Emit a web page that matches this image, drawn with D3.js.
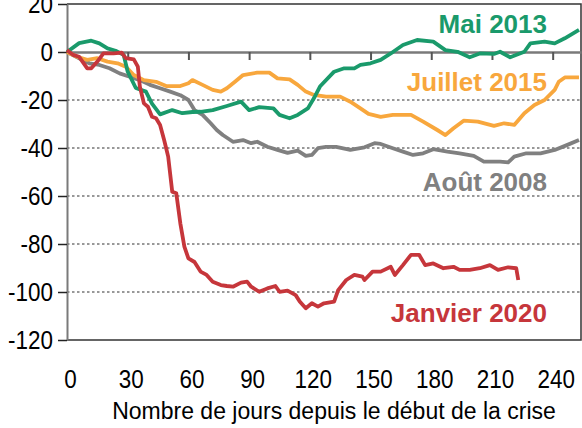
<!DOCTYPE html>
<html>
<head>
<meta charset="utf-8">
<script src="https://cdn.jsdelivr.net/npm/d3@7"></script>
<style>
  body { margin: 0; background: #fff; }
  svg { display: block; }
  .tick text { font-family: "Liberation Sans", Arial, sans-serif; font-size: 25.5px; fill: #000; }
</style>
</head>
<body>
<svg id="chart" width="582" height="428"></svg>
<script>
// days since start of crisis, change
const aout2008Days = [0, 6, 11, 16, 21, 26, 31, 36, 41, 46, 51, 56, 60, 63, 67, 71, 74, 77, 82, 87, 91, 94, 99, 104, 109, 114, 118, 121, 124, 128, 133, 140, 147, 152, 155, 161, 166, 171, 176, 181, 188, 194, 201, 206, 214, 218, 221, 227, 234, 241, 247, 253];
const aout2008Values = [0, -2.6, -4.7, -5.4, -6.8, -8.9, -10.3, -11.7, -13.7, -15.1, -16.5, -18, -20, -24.2, -26.2, -29.7, -32.5, -34.6, -37.4, -36.7, -38, -37.4, -39.5, -40.8, -42, -41.1, -43.3, -42.9, -40.1, -39.5, -39.5, -40.8, -39.7, -38, -38.3, -40.1, -41.5, -42.9, -42.2, -40.5, -41.5, -42.2, -43.3, -45.7, -45.7, -46, -43.6, -42.2, -42.2, -40.8, -38.8, -36.7];

const juillet2015Days = [0, 5, 10, 15, 20, 25, 29, 33, 38, 44, 49, 56, 60, 62, 67, 72, 76, 79, 83, 87, 94, 100, 104, 110, 114, 118, 122, 128, 135, 140, 145, 149, 155, 161, 170, 176, 183, 187, 191, 196, 203, 211, 216, 221, 226, 231, 236, 241, 243, 246, 253];
const juillet2015Values = [0, -2, -3.3, -2.6, -4, -4.7, -6.1, -9.6, -11.7, -12.4, -14.2, -14.2, -13, -11.7, -13.7, -15.8, -16.5, -15.1, -12.4, -9.6, -8.6, -8.6, -11, -11.4, -13.7, -16.5, -17.9, -18.6, -18.6, -20.7, -23.5, -25.8, -27, -26.2, -26.2, -29, -32.5, -34.6, -31.8, -28.6, -29, -30.8, -29.7, -30.4, -25.5, -22.1, -20, -15.8, -12.4, -10.6, -10.6];

const mai2013Days = [0, 6, 12, 16, 20, 24, 28, 30, 34, 39, 42, 46, 52, 57, 62, 66, 72, 79, 86, 90, 95, 102, 105, 110, 114, 119, 122, 125, 132, 137, 142, 145, 150, 155, 160, 166, 173, 181, 187, 193, 199, 204, 211, 214, 219, 226, 229, 236, 241, 246, 253];
const mai2013Values = [0, 3.7, 4.7, 3.6, 1.5, 0.5, -1.2, -8.2, -15, -16.5, -21.5, -26, -24.2, -25.5, -25, -24.9, -24.2, -22.5, -20.7, -24.2, -23, -23.5, -26.2, -27.6, -26.2, -23.5, -19.3, -14.4, -8.2, -6.8, -6.8, -5.4, -4.7, -3.3, -0.6, 2.9, 5, 4.3, 0.8, 0.1, -2.2, -0.6, -0.8, 0.1, -2.2, 0.1, 3.6, 4.3, 3.6, 5.7, 9.2];

const janvier2020Days = [0, 3, 6, 10, 12, 15, 18, 23, 27, 29, 33, 35, 36, 38, 40, 42, 44, 46, 48, 49, 50, 52, 54, 56, 58, 60, 63, 66, 69, 72, 76, 79, 82, 86, 89, 91, 95, 99, 103, 105, 109, 113, 115, 118, 121, 124, 127, 132, 134, 138, 142, 146, 147, 151, 155, 160, 162, 166, 170, 174, 177, 181, 186, 191, 194, 199, 204, 209, 213, 218, 222, 223];
const janvier2020Values = [0.8, -1.2, -2, -6.8, -6.8, -4, -0.6, -0.6, -0.3, -2.6, -3.1, -6.1, -14.4, -21.4, -22.8, -27, -27.6, -30.4, -36.7, -40.1, -43.6, -58.2, -58.9, -71.4, -81.1, -86, -87.5, -91.5, -92.9, -95.7, -97.1, -97.5, -97.8, -96.1, -95.7, -97.8, -99.9, -98.5, -97.5, -99.9, -99.4, -101.3, -104, -106.8, -104.7, -106.1, -104.7, -104, -99.2, -95, -92.9, -93.6, -95, -91.5, -91.5, -89.5, -92.9, -88.8, -84.5, -84.5, -88.8, -88.1, -90.1, -89.5, -90.8, -90.8, -90.1, -88.8, -90.8, -89.7, -90.1, -95];

const seriesNames = ["Août 2008", "Juillet 2015", "Mai 2013", "Janvier 2020"];
const seriesColors = ["#808080", "#f8a73d", "#1a9a6b", "#c6363b"];
const yTicks = [-120, -100, -80, -60, -40, -20, 0, 20];
const xTicks = [0, 30, 60, 90, 120, 150, 180, 210, 240];
const xTitle = "Nombre de jours depuis le début de la crise";

const series = [
  {name: seriesNames[0], color: seriesColors[0], days: aout2008Days, values: aout2008Values, labelY: 191},
  {name: seriesNames[1], color: seriesColors[1], days: juillet2015Days, values: juillet2015Values, labelY: 91},
  {name: seriesNames[2], color: seriesColors[2], days: mai2013Days, values: mai2013Values, labelY: 33},
  {name: seriesNames[3], color: seriesColors[3], days: janvier2020Days, values: janvier2020Values, labelY: 322}
];

const svg = d3.select("#chart");
const plotLeft = 67, plotRight = 581, plotTop = 4, plotBottom = 340;

const x = d3.scaleLinear().domain([0, 254]).range([plotLeft, plotRight]);
const y = d3.scaleLinear().domain([-120, 20]).range([plotBottom, plotTop]);

// squeeze tick labels a bit, the original uses a narrow face
function narrow(sel, k) {
  sel.each(function() {
    const w = this.getComputedTextLength();
    d3.select(this).attr("textLength", w * k).attr("lengthAdjust", "spacingAndGlyphs");
  });
}

// dotted grid
svg.append("g")
  .selectAll("line")
  .data(yTicks.filter(d => d < 0 && d > -120))
  .join("line")
  .attr("x1", plotLeft).attr("x2", plotRight)
  .attr("y1", d => y(d)).attr("y2", d => y(d))
  .attr("stroke", "#333")
  .attr("stroke-width", 1.2)
  .attr("stroke-dasharray", "2.5,2.5");

// frame top / right / bottom
svg.append("path")
  .attr("d", `M${plotLeft},${plotTop}H${plotRight}V${plotBottom}H${plotLeft}`)
  .attr("fill", "none")
  .attr("stroke", "#333")
  .attr("stroke-width", 1.5);

// zero line with ticks pointing down
const zeroAxis = svg.append("g")
  .attr("transform", `translate(0,${y(0)})`)
  .call(d3.axisBottom(x).tickValues(xTicks.slice(1)).tickSize(8).tickSizeOuter(0).tickFormat(""));
zeroAxis.select(".domain").attr("stroke", "#7a7a7a").attr("stroke-width", 2.5);
zeroAxis.selectAll(".tick line").attr("stroke", "#555").attr("stroke-width", 2);

// x labels under the plot
const xAxis = svg.append("g")
  .attr("transform", `translate(0,${plotBottom})`)
  .call(d3.axisBottom(x).tickValues(xTicks).tickSize(0).tickPadding(30));
xAxis.select(".domain").remove();
xAxis.selectAll(".tick text").attr("dx", 3).call(narrow, 0.88);

// y axis
const yAxis = svg.append("g")
  .attr("transform", `translate(${plotLeft},0)`)
  .call(d3.axisLeft(y).tickValues(yTicks).tickSize(9).tickPadding(5).tickSizeOuter(0).tickFormat(d => String(d)));
yAxis.select(".domain").attr("stroke", "#7a7a7a").attr("stroke-width", 2);
yAxis.selectAll(".tick line").attr("stroke", "#222").attr("stroke-width", 1.5);
yAxis.selectAll(".tick text").call(narrow, 0.88);

const line = d3.line()
  .x(d => x(d[0]))
  .y(d => y(d[1]));

series.forEach(function(s) {
  const pts = s.days.map((d, i) => [d, s.values[i]]);
  svg.append("path")
    .datum(pts)
    .attr("d", line)
    .attr("fill", "none")
    .attr("stroke", s.color)
    .attr("stroke-width", 3.8)
    .attr("stroke-linejoin", "round");
});

series.forEach(function(s) {
  svg.append("text")
    .attr("x", 547)
    .attr("y", s.labelY)
    .attr("text-anchor", "end")
    .attr("font-family", "'Liberation Sans', Arial, sans-serif")
    .attr("font-weight", "bold")
    .attr("font-size", 26)
    .attr("fill", s.color)
    .text(s.name);
});

svg.append("text")
  .attr("x", 334)
  .attr("y", 419)
  .attr("text-anchor", "middle")
  .attr("font-family", "'Liberation Sans', Arial, sans-serif")
  .attr("font-size", 23)
  .text(xTitle);
</script>
</body>
</html>
